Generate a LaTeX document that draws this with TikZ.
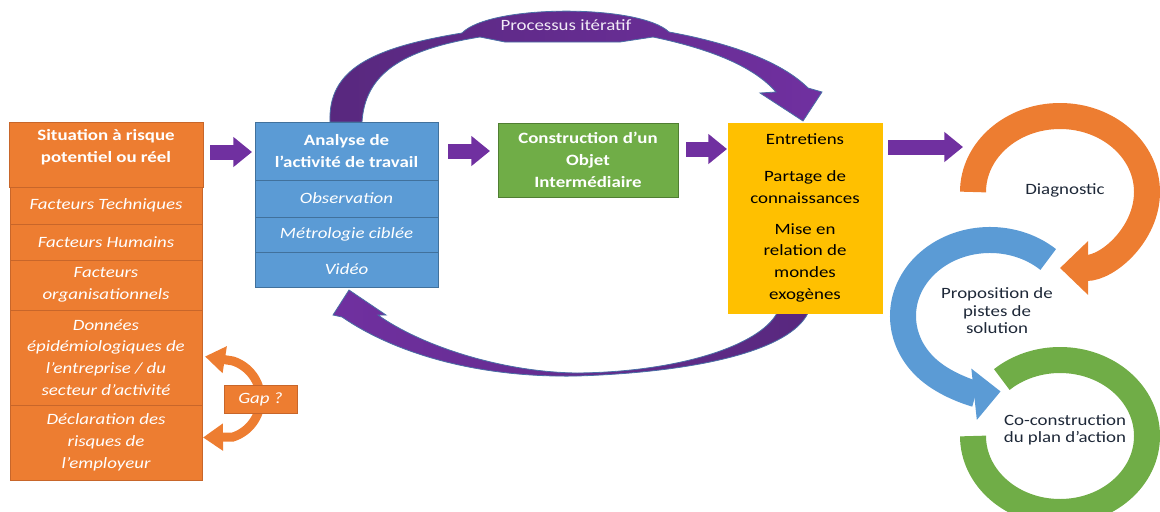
\documentclass[tikz,border=0pt]{standalone}
\usepackage{fontspec}
\setmainfont{Carlito}[FakeStretch=1.2]
\usetikzlibrary{arrows.meta,calc,positioning,backgrounds}
\definecolor{orng}{HTML}{ED7D31}
\definecolor{orngline}{HTML}{C8662A}
\definecolor{blu}{HTML}{5B9BD5}
\definecolor{bluline}{HTML}{41719C}
\definecolor{grn}{HTML}{70AD47}
\definecolor{grnline}{HTML}{507E32}
\definecolor{yellowfill}{HTML}{FFC000}
\definecolor{purp}{HTML}{7030A0}
\definecolor{purpdark}{HTML}{58287E}
\definecolor{arcline}{HTML}{4A6FA5}
\definecolor{inkdark}{HTML}{1E2838}
\newcommand{\bodysize}{\fontsize{11.8}{16.3}\selectfont}
\tikzset{
    box/.style={rectangle, line width=0.75pt, outer sep=0pt, inner sep=1pt, align=center, text=white, font=\bodysize},
    orangebox/.style={box, fill=orng, draw=orngline, minimum width=144pt},
    bluebox/.style={box, fill=blu, draw=bluline, minimum width=137.25pt},
    italbox/.style={font=\bodysize\itshape},
    boldbox/.style={font=\bodysize\bfseries},
    headtext/.style={align=center, text=white, font=\bodysize\bfseries},
    blockarrow/.style={draw=purp, line width=11.25pt, -{Triangle[width=21.75pt,length=14pt]}},
    ringtext/.style={align=center, text=inkdark, font=\fontsize{11.8}{13.1}\selectfont},
    gaparrow/.style={draw=orng, line width=6.75pt, -{Triangle[width=19.5pt,length=15pt]}}
}
\begin{document}
\begin{tikzpicture}[x=0.75pt,y=-0.75pt,font=\bodysize]
\useasboundingbox (0,0) rectangle (1160,511);

\path[draw=arcline, line width=0.6pt, left color=purpdark, right color=purp]
  (330,122) .. controls (328,70) and (370,48) .. (462,33)
  .. controls (490,4) and (640,4) .. (669,32)
  .. controls (740,45) and (785,65) .. (808,88)
  -- (822,92) -- (803,121) -- (760,93) -- (776,92)
  .. controls (755,68) and (715,50) .. (653,37)
  -- (620,42) -- (505,42) -- (480,37)
  .. controls (400,50) and (365,75) .. (362,122) -- cycle;
\node[text=white!90!purp] (iter) at (566,25) {Processus itératif};

\path[draw=arcline, line width=0.6pt, left color=purp, right color=purpdark]
  (808,313) .. controls (790,350) and (700,372) .. (577,376)
  .. controls (470,378) and (390,350) .. (342,317)
  -- (333,315) -- (349,290) -- (386,315) -- (378,315)
  .. controls (420,345) and (500,372) .. (577,373)
  .. controls (680,372) and (760,345) .. (777,313) -- cycle;

\node[orangebox, minimum width=145.5pt, minimum height=48.75pt] (sit) at (106,154.5) {};
\node[headtext] (sitlbl) at ($(sit.center)+(0,-7)$) {Situation à risque\\potentiel ou réel};
\node[orangebox, italbox, minimum height=27.75pt, below=0pt of sit] (tech) {Facteurs Techniques};
\node[orangebox, italbox, minimum height=27pt, below=0pt of tech] (hum) {Facteurs Humains};
\node[orangebox, italbox, minimum height=37.5pt, below=0pt of hum] (orga) {Facteurs\\organisationnels};
\node[orangebox, italbox, minimum height=71.25pt, below=0pt of orga] (epid) {Données\\épidémiologiques de\\l’entreprise / du\\secteur d’activité};
\node[orangebox, italbox, minimum height=56.25pt, below=0pt of epid] (decl) {Déclaration des\\risques de\\l’employeur};

\node[bluebox, boldbox, minimum height=43.5pt] (ana) at (346.5,151) {Analyse de\\l’activité de travail};
\node[bluebox, italbox, minimum height=27.75pt, below=0pt of ana] (obs) {Observation};
\node[bluebox, italbox, minimum height=26.25pt, below=0pt of obs] (metro) {Métrologie ciblée};
\node[bluebox, italbox, minimum height=26.25pt, below=0pt of metro] (video) {Vidéo};

\node[box, boldbox, fill=grn, draw=grnline, minimum width=135pt, minimum height=55.5pt] (objet) at (588,160) {Construction d’un\\Objet\\Intermédiaire};
\node[box, fill=yellowfill, draw=yellowfill, text=black, minimum width=115.5pt, minimum height=142.5pt] (entr) at (805,218)
  {Entretiens\\[11pt]Partage de\\connaissances\\[7pt]Mise en\\relation de\\mondes\\exogènes};

\node[box, italbox, fill=orng, draw=orngline, minimum width=54.75pt, minimum height=21pt] (gap) at (260.5,399) {Gap ?};
\begin{scope}[on background layer]
\draw[gaparrow] (gap.center) arc[start angle=0, end angle=-72, radius=40] -- ($(epid.east)+(3,-1)$);
\draw[gaparrow] (gap.center) arc[start angle=0, end angle=72, radius=40] -- ($(decl.east)+(1,-5)$);
\end{scope}

\draw[blockarrow, shorten <=5.25pt, shorten >=2.25pt] (sit.east |- 0,152) -- (ana.west |- 0,152);
\draw[blockarrow, shorten <=7.5pt, shorten >=6pt] (ana.east |- 0,151) -- (objet.west |- 0,151);
\draw[blockarrow, shorten <=6pt, shorten >=0.75pt] (objet.east |- 0,149) -- (entr.west |- 0,149);
\coordinate (ringin) at (963,147);
\draw[blockarrow, shorten <=4.5pt] (entr.east |- ringin) -- (ringin);

\draw[grn, line width=19.5pt] (973,436) arc[start angle=180, end angle=-132, x radius=87, y radius=76];
\draw[blu, line width=19.5pt, -{Triangle[width=37.5pt,length=20pt]}] (1048.2,259.5) arc[start angle=-48, end angle=-277, x radius=87, y radius=76];
\draw[orng, line width=19.5pt, -{Triangle[width=39pt,length=21pt]}] (973,192) arc[start angle=180, end angle=450, x radius=87, y radius=76];

\node[ringtext] (diag) at (1065,190) {Diagnostic};
\node[ringtext] (prop) at (997,311) {Proposition de\\pistes de\\solution};
\node[ringtext] (cocon) at (1065,430) {Co-construction\\du plan d'action};
\end{tikzpicture}
\end{document}
